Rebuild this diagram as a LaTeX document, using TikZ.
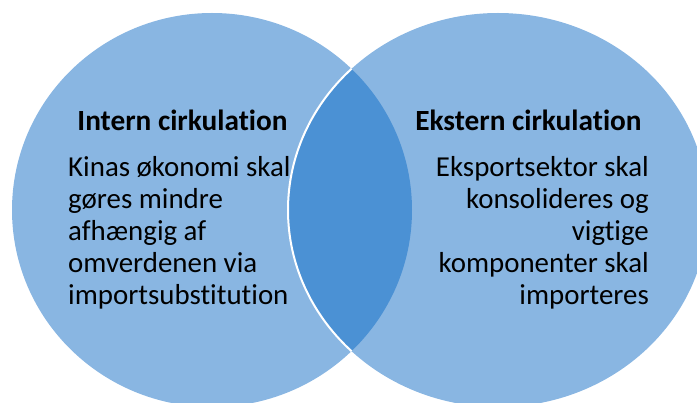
\documentclass[tikz,border=0pt]{standalone}
\usepackage{fontspec}
\setmainfont{Carlito}[Ligatures=NoCommon]
\usetikzlibrary{positioning}
\definecolor{circleblue}{RGB}{137,182,226}
\definecolor{lensblue}{RGB}{75,145,212}
\tikzstyle{circ} = [fill=circleblue]
\tikzstyle{lens} = [fill=lensblue]
\tikzstyle{rim} = [draw=white, line width=2pt]
\tikzstyle{title} = [font=\fontsize{29.3}{32}\selectfont\bfseries, inner sep=0pt]
\tikzstyle{body} = [font=\fontsize{28.9}{32}\selectfont, inner sep=0pt]

\begin{document}
\begin{tikzpicture}[x=1pt,y=-1pt]
    \useasboundingbox (0,0) rectangle (697,403);
    \clip (0,0) rectangle (697,403);
    % the two circles
    \fill[circ] (212,210) ellipse [x radius=200, y radius=197];
    \fill[circ] (498,210) ellipse [x radius=210, y radius=197];
    % overlap
    \begin{scope}
        \clip (212,210) ellipse [x radius=200, y radius=197];
        \fill[lens] (498,210) ellipse [x radius=210, y radius=197];
        \draw[rim] (498,210) ellipse [x radius=210, y radius=197];
    \end{scope}
    % texts
    \node (interntitle) [title, anchor=base] at (182.5,131) {Intern cirkulation};
    \node (interntext) [body, align=left, anchor=base west] at (68,305) {Kinas økonomi skal\\gøres mindre\\afhængig af\\omverdenen via\\importsubstitution};
    \node (eksterntitle) [title, anchor=base] at (528.5,131) {Ekstern cirkulation};
    \node (eksterntext) [body, align=right, anchor=base east] at (649,305) {Eksportsektor skal\\konsolideres og\\vigtige\\komponenter skal\\importeres};
\end{tikzpicture}
\end{document}
